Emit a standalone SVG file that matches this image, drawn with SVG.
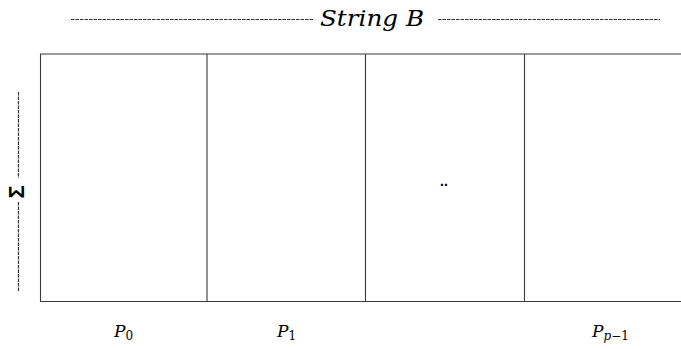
<svg xmlns="http://www.w3.org/2000/svg" width="681" height="349" viewBox="0 0 681 349">
<style>
.ln{stroke:#3a3a3a;stroke-width:1.1;fill:none}
.dash{stroke:#333;stroke-width:1.2;stroke-dasharray:3.5 1;fill:none}
.math{font-family:"DejaVu Serif","Liberation Serif",serif;font-style:italic;fill:#000}
.up{font-style:normal}
</style>
<rect width="681" height="349" fill="#fff"/>
<g id="title">
<line class="dash" x1="71" y1="19.5" x2="314" y2="19.5"/>
<text class="math" x="320" y="26" font-size="23" textLength="104" lengthAdjust="spacingAndGlyphs">String B</text>
<line class="dash" x1="438" y1="19.5" x2="660" y2="19.5"/>
</g>
<g id="sigma-axis">
<line class="dash" x1="18.5" y1="92" x2="18.5" y2="178"/>
<text x="16" y="192" font-family="Liberation Sans,Arial,sans-serif" font-weight="bold" font-size="22" text-anchor="middle" transform="rotate(-90 16 192)" dominant-baseline="central">Σ</text>
<line class="dash" x1="18.5" y1="202" x2="18.5" y2="292"/>
</g>
<g id="grid">
<polyline class="ln" points="681,54 40.5,54 40.5,301.5 681,301.5"/>
<line class="ln" x1="207" y1="54" x2="207" y2="301.5"/>
<line class="ln" x1="365.5" y1="54" x2="365.5" y2="301.5"/>
<line class="ln" x1="524.5" y1="54" x2="524.5" y2="301.5"/>
</g>
<g id="ellipsis">
<text x="440" y="186" font-family="Liberation Sans,Arial,sans-serif" font-weight="bold" font-size="14">..</text>
</g>
<g id="p0"><text class="math" x="114" y="337" font-size="17">P<tspan class="up" font-size="12" dy="3">0</tspan></text></g>
<g id="p1"><text class="math" x="277" y="337" font-size="17">P<tspan class="up" font-size="12" dy="3">1</tspan></text></g>
<g id="pp1"><text class="math" x="592" y="337" font-size="17">P<tspan font-size="12" dy="3">p</tspan><tspan class="up" font-size="12">−1</tspan></text></g>
</svg>
